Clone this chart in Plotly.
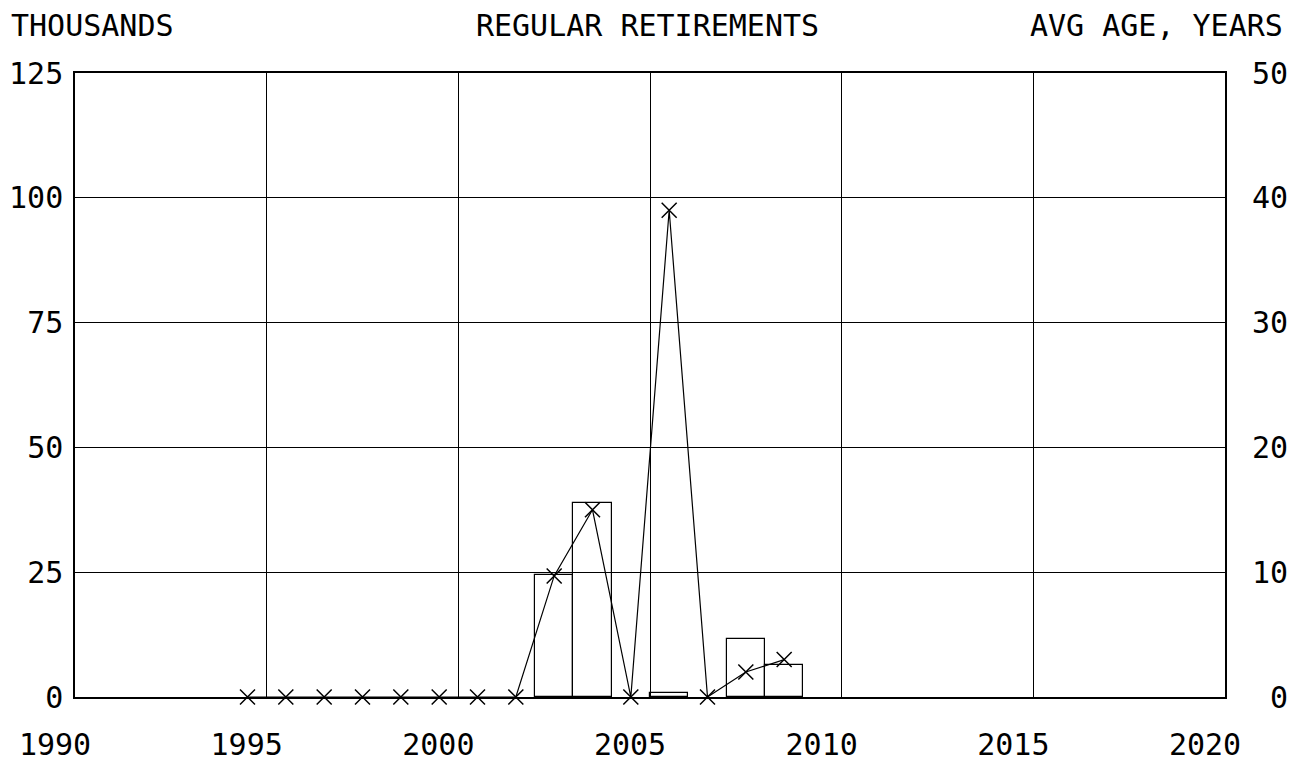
import plotly.graph_objects as go

# ---- data ----
bar_years = [2003, 2004, 2006, 2008, 2009]
retirements_thousands = [24.4, 38.9, 0.9, 11.6, 6.5]

age_years = [1995, 1996, 1997, 1998, 1999, 2000, 2001, 2002, 2003, 2004, 2005, 2006, 2007, 2008, 2009]
avg_age = [0, 0, 0, 0, 0, 0, 0, 0, 9.7, 15.0, 0, 39.0, 0, 2.0, 3.0]

x_ticks = [1990, 1995, 2000, 2005, 2010, 2015, 2020]
left_ticks = [0, 25, 50, 75, 100, 125]
right_ticks = [0, 10, 20, 30, 40, 50]

FONT = "DejaVu Sans Mono"
FS = 30

# page has an 8px body margin; figure is sized so the plot area lands at 75..1225 x 73..697
W, H = 1287, 764
ML, MT = 67, 65
PW, PH = 1150, 624

fig = go.Figure()

# bars occupy the interval [year-1, year]
fig.add_trace(go.Bar(
    x=[y - 0.5 for y in bar_years],
    y=retirements_thousands,
    width=1.0,
    marker=dict(color="rgba(0,0,0,0)", line=dict(color="black", width=1.2)),
    yaxis="y",
    showlegend=False,
))

fig.add_trace(go.Scatter(
    x=[y - 0.5 for y in age_years],
    y=avg_age,
    mode="lines+markers",
    line=dict(color="black", width=1.2),
    marker=dict(symbol="x-thin", size=15, line=dict(color="black", width=1.5)),
    yaxis="y2",
    cliponaxis=False,
    showlegend=False,
))

fig.update_layout(
    width=W,
    height=H,
    margin=dict(l=ML, r=W - ML - PW, t=MT, b=H - MT - PH, autoexpand=False),
    paper_bgcolor="white",
    plot_bgcolor="white",
    font=dict(family=FONT, size=FS, color="black"),
    title=dict(text="REGULAR RETIREMENTS", x=(647.5 - 8) / W, xref="container", xanchor="center",
               y=1 - (25 - 8) / H, yref="container", yanchor="middle",
               font=dict(family=FONT, size=FS, color="black")),
    xaxis=dict(
        range=[1990, 2020],
        tickvals=x_ticks,
        ticktext=[str(v) for v in x_ticks],
        ticks="",
        ticklabelshift=-20,
        ticklabelstandoff=20,
        showgrid=True, gridcolor="black", gridwidth=1,
        showline=True, mirror=True, linecolor="black", linewidth=1.5,
        zeroline=False,
        automargin=False,
        fixedrange=True,
    ),
    yaxis=dict(
        range=[0, 125],
        tickvals=left_ticks,
        ticktext=[str(v) for v in left_ticks],
        ticks="",
        ticklabelstandoff=4,
        showgrid=True, gridcolor="black", gridwidth=1,
        showline=True, mirror=True, linecolor="black", linewidth=1.5,
        zeroline=False,
        automargin=False,
    ),
    yaxis2=dict(
        range=[0, 50],
        overlaying="y",
        side="right",
        tickvals=right_ticks,
        ticktext=[("\u00a0" + str(v)) if v < 10 else str(v) for v in right_ticks],
        ticks="",
        ticklabelstandoff=26,
        showgrid=False,
        showline=False,
        zeroline=False,
        automargin=False,
    ),
    bargap=0,
    annotations=[
        dict(text="THOUSANDS", xref="paper", yref="paper",
             x=(9 - 75) / PW, y=(697 - 25) / PH,
             xanchor="left", yanchor="middle", showarrow=False,
             font=dict(family=FONT, size=FS, color="black")),
        dict(text="AVG AGE, YEARS", xref="paper", yref="paper",
             x=(1285 - 75) / PW, y=(697 - 25) / PH,
             xanchor="right", yanchor="middle", showarrow=False,
             font=dict(family=FONT, size=FS, color="black")),
    ],
)

fig.write_html("out.html")
